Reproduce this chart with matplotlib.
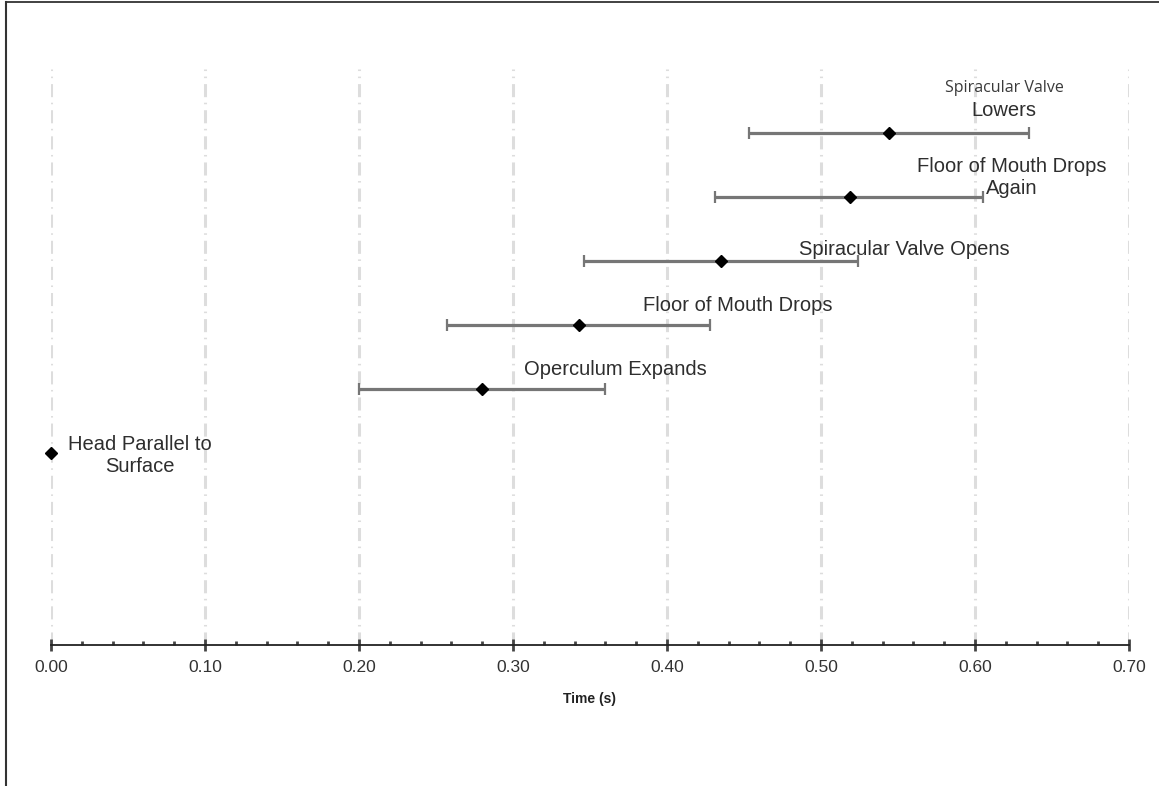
import numpy as np
import matplotlib.pyplot as plt
from matplotlib.lines import Line2D
from matplotlib.ticker import MultipleLocator, FormatStrFormatter

plt.rcParams['font.family'] = ['Liberation Sans', 'DejaVu Sans']
plt.rcParams['lines.scale_dashes'] = False

# stages of the breath, bottom row first
stages = ['Head Parallel to\nSurface', 'Operculum Expands', 'Floor of Mouth Drops',
          'Spiracular Valve Opens', 'Floor of Mouth Drops\nAgain', 'Lowers']
mean_t = [0.0, 0.280, 0.343, 0.435, 0.519, 0.544]
low_t = [0.0, 0.200, 0.257, 0.346, 0.431, 0.453]
high_t = [0.0, 0.360, 0.428, 0.524, 0.605, 0.635]
xticks = [0.0, 0.1, 0.2, 0.3, 0.4, 0.5, 0.6, 0.7]

# label placement, offset from each marker in points
label_dx = [64, 96, 114, 132, 116, 83]
label_dy = [-1.5, 14, 14, 8, 14, 16]

rows = np.arange(len(stages))
mean_t = np.array(mean_t)
err = np.vstack([mean_t - np.array(low_t), np.array(high_t) - mean_t])

fig = plt.figure(figsize=(11.59, 7.86), dpi=100)
ax = fig.add_axes([0.044, 0.1794, 0.9301, 0.7328])

# the first stage is the reference point, no spread
ax.plot(mean_t[0], rows[0], 'D', color='black', ms=6.5, zorder=4, clip_on=False)
ax.errorbar(mean_t[1:], rows[1:], xerr=err[:, 1:], fmt='D', color='black', ms=6.5,
            ecolor='#767676', elinewidth=2.3, capsize=4, capthick=1.6, zorder=3)

for i, txt in enumerate(stages):
    ax.annotate(txt, xy=(mean_t[i], rows[i]), xytext=(label_dx[i], label_dy[i]),
                textcoords='offset points', ha='center', va='center',
                fontsize=14.5, color='#2e2e2e', linespacing=1.2)
# top label is split across two fonts
ax.annotate('Spiracular Valve', xy=(mean_t[5], rows[5]), xytext=(83.5, 32.5),
            textcoords='offset points', ha='center', va='center',
            fontsize=11.5, color='#3a3a3a', family=['Open Sans', 'DejaVu Sans'])

ax.set_xlim(0, 0.7)
ax.set_ylim(-3, 6)
ax.set_xticks(xticks)
ax.xaxis.set_minor_locator(MultipleLocator(0.02))
ax.xaxis.set_major_formatter(FormatStrFormatter('%.2f'))
ax.tick_params(axis='x', which='major', direction='inout', length=8, width=2,
               color='#444444', labelsize=12.5, labelcolor='#333333', pad=7)
ax.tick_params(axis='x', which='minor', direction='in', length=3, width=2, color='#444444')
ax.tick_params(axis='y', left=False, labelleft=False)
ax.grid(axis='x', which='major', color='#dddddd', linewidth=2.2,
        linestyle=(0, (9.4, 4.3, 1.1, 4.0)), zorder=0)
ax.set_axisbelow(True)

for side in ['left', 'right', 'top']:
    ax.spines[side].set_visible(False)
ax.spines['bottom'].set_color('#222222')
ax.spines['bottom'].set_linewidth(1.3)

ax.set_xlabel('Time (s)', fontsize=10, fontweight='bold', color='#222222', labelpad=12)

# frame lines along the top and left edge of the image
fig.add_artist(Line2D([6.3 / 1159, 1.0], [1 - 2.3 / 786, 1 - 2.3 / 786],
                      color='#333333', linewidth=1.3, transform=fig.transFigure))
fig.add_artist(Line2D([6.3 / 1159, 6.3 / 1159], [0.0, 1 - 2.3 / 786],
                      color='#333333', linewidth=1.5, transform=fig.transFigure))

fig.savefig('out.png', dpi=100, facecolor='white')
